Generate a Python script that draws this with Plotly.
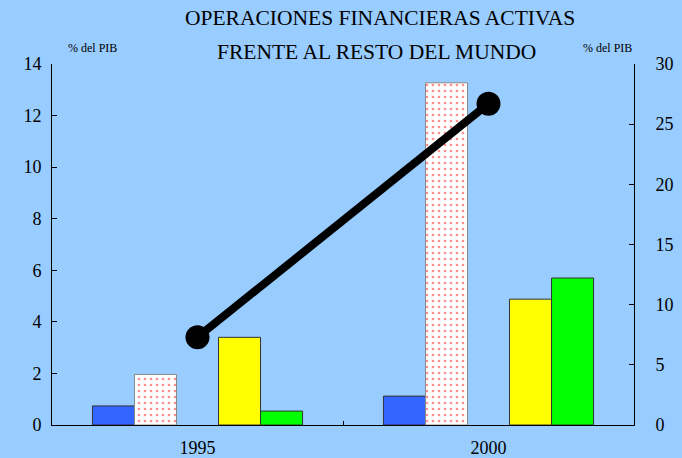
import plotly.graph_objects as go

years = ["1995", "2000"]
serie_azul = [0.74, 1.12]
serie_punteada = [1.96, 13.27]
serie_vacia = [None, None]
serie_amarilla = [3.40, 4.88]
serie_verde = [0.54, 5.70]
linea_derecha = [7.3, 26.7]

left_ticks = list(range(0, 15, 2))
right_ticks = list(range(0, 31, 5))

bg = "#99CCFF"
outline = dict(color="#333333", width=1)
serif = "Liberation Serif"

fig = go.Figure()
fig.add_bar(x=years, y=serie_azul, marker=dict(color="#3366FF", line=outline), showlegend=False)
fig.add_bar(x=years, y=serie_punteada,
            marker=dict(color="white", line=dict(color="#888888", width=1),
                        pattern=dict(shape=".", fgcolor="#FF2020", bgcolor="white",
                                     size=6, solidity=0.16)),
            showlegend=False)
fig.add_bar(x=years, y=serie_vacia, showlegend=False)
fig.add_bar(x=years, y=serie_amarilla, marker=dict(color="#FFFF00", line=outline), showlegend=False)
fig.add_bar(x=years, y=serie_verde, marker=dict(color="#00FF00", line=outline), showlegend=False)
fig.add_scatter(x=years, y=linea_derecha, yaxis="y2", mode="lines+markers",
                line=dict(color="black", width=8),
                marker=dict(color="black", size=24, symbol="circle"), showlegend=False)

font = dict(family=serif, color="black", size=18)

fig.update_layout(
    width=682, height=458,
    paper_bgcolor=bg, plot_bgcolor=bg,
    margin=dict(l=52, r=48, t=64, b=33, autoexpand=False),
    barmode="group", bargap=0.278, bargroupgap=0,
    font=font,
    xaxis=dict(type="category", showline=True, linecolor="black", linewidth=1,
               ticks="inside", tickson="boundaries", ticklen=4, tickcolor="black",
               showgrid=False, zeroline=False, tickfont=font, automargin=False,
               ticklabelstandoff=6),
    yaxis=dict(range=[0, 14], tickvals=left_ticks, showline=True, linecolor="black",
               linewidth=1, ticks="inside", ticklen=5, tickcolor="black",
               showgrid=False, zeroline=False, tickfont=font, ticklabelstandoff=6,
               automargin=False),
    yaxis2=dict(range=[0, 30], tickvals=right_ticks, overlaying="y", side="right",
                showline=True, linecolor="black", linewidth=1, ticks="inside", ticklen=5,
                tickcolor="black", showgrid=False, zeroline=False, tickfont=font,
                ticklabelstandoff=17, automargin=False),
    annotations=[
        dict(text="OPERACIONES FINANCIERAS ACTIVAS", xref="paper", yref="paper",
             x=0.564, y=1.127, xanchor="center", yanchor="middle", showarrow=False,
             font=dict(family=serif, size=21.5, color="black")),
        dict(text="FRENTE AL RESTO DEL MUNDO", xref="paper", yref="paper",
             x=0.558, y=1.033, xanchor="center", yanchor="middle", showarrow=False,
             font=dict(family=serif, size=21.5, color="black")),
        dict(text="% del PIB", xref="paper", yref="paper", x=0.07, y=1.044,
             xanchor="center", yanchor="middle", showarrow=False,
             font=dict(family=serif, size=12, color="black")),
        dict(text="% del PIB", xref="paper", yref="paper", x=0.955, y=1.044,
             xanchor="center", yanchor="middle", showarrow=False,
             font=dict(family=serif, size=12, color="black")),
    ],
)

fig.write_html("out.html", config={"displayModeBar": False},
               post_script="document.body.style.margin='0';document.body.style.overflow='hidden';")
